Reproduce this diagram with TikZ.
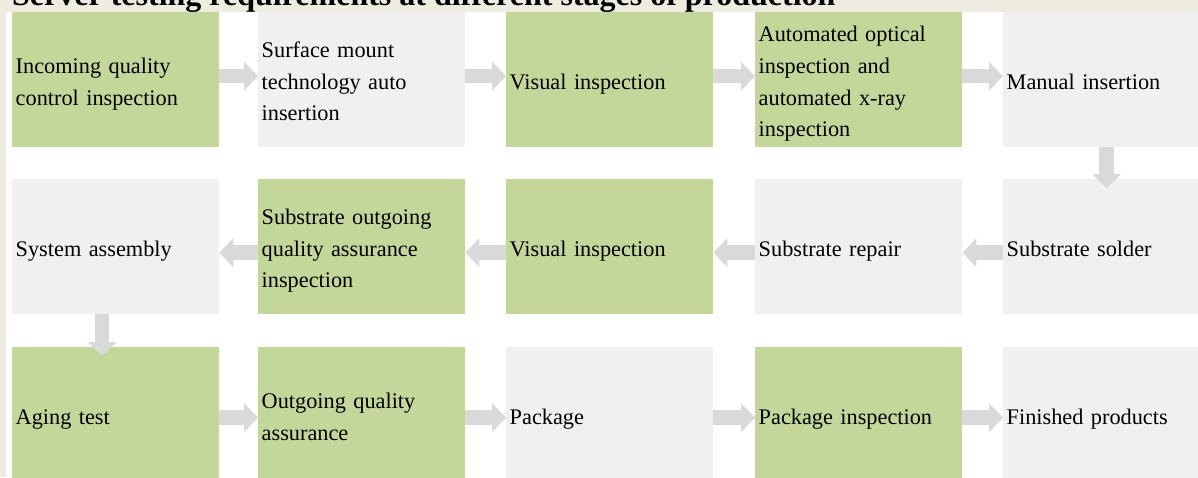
\documentclass[tikz,border=0pt]{standalone}
\usepackage{fontspec}
\setmainfont{Liberation Serif}
\usepackage{xcolor}
\usetikzlibrary{arrows.meta,positioning}
\definecolor{boxgreen}{HTML}{C4D79B}
\definecolor{boxgrey}{HTML}{F0F0F0}
\definecolor{arrowgrey}{HTML}{D9D9D9}
\definecolor{bgtan}{HTML}{EEECE1}

\begin{document}
\begin{tikzpicture}
  [x=1pt,y=-1pt,
   stage/.style={rectangle,anchor=north west,minimum width=207pt,minimum height=135pt,
     text width=200pt,inner xsep=3.5pt,inner ysep=0pt,align=left,
     font=\fontsize{22.3}{31.6}\selectfont,
     execute at begin node={\rule{0pt}{28pt}},execute at end node={\rule[-9pt]{0pt}{9pt}}},
   gbox/.style={stage,fill=boxgreen},
   wbox/.style={stage,fill=boxgrey},
   flow/.style={draw=arrowgrey,line width=14.5pt,-{Triangle[length=14pt,width=29pt,line width=0pt,fill=arrowgrey]}}]
  \useasboundingbox (0,0) rectangle (1198,477);
  \clip (0,0) rectangle (1198,477);
  \fill[bgtan] (0,0) rectangle (1198,477);
  \fill[white] (6,12) rectangle (1198,477);
  \node[anchor=base west,inner sep=0pt,font=\fontsize{32}{38}\selectfont\bfseries] (title) at (12,5)
    {Server testing requirements at different stages of production};
  % first row
  \node[gbox] (n1) at (12,12) {Incoming quality\\control inspection};
  \node[wbox] (n2) at (258,12) {Surface mount\\technology auto\\insertion};
  \node[gbox] (n3) at (506,12) {Visual inspection};
  \node[gbox] (n4) at (755,12) {Automated optical\\inspection and\\automated x-ray\\inspection};
  \node[wbox] (n5) at (1003,12) {Manual insertion};
  % second row
  \node[wbox] (n6) at (1003,179) {Substrate solder};
  \node[wbox] (n7) at (755,179) {Substrate repair};
  \node[gbox] (n8) at (506,179) {Visual inspection};
  \node[gbox] (n9) at (258,179) {Substrate outgoing\\quality assurance\\inspection};
  \node[wbox] (n10) at (12,179) {System assembly};
  % third row
  \node[gbox] (n11) at (12,347) {Aging test};
  \node[gbox] (n12) at (258,347) {Outgoing quality\\assurance};
  \node[wbox] (n13) at (506,347) {Package};
  \node[gbox] (n14) at (755,347) {Package inspection};
  \node[wbox] (n15) at (1003,347) {Finished products};
  \foreach \from/\to/\dy in {n1/n2/3.5pt,n2/n3/3.5pt,n3/n4/3.5pt,n4/n5/3.5pt,
      n11/n12/-3pt,n12/n13/-3pt,n13/n14/-3pt,n14/n15/-3pt}
    \draw[flow] ([yshift=\dy]\from.east) -- ([yshift=\dy]\to.west);
  \foreach \from/\to in {n6/n7,n7/n8,n8/n9,n9/n10}
    \draw[flow] ([yshift=-6pt]\from.west) -- ([yshift=-6pt]\to.east);
  \draw[flow] (n5.south) -- ([yshift=-9pt]n6.north);
  \draw[flow] ([xshift=-13.5pt]n10.south) -- ([xshift=-13.5pt,yshift=-9pt]n11.north);
\end{tikzpicture}
\end{document}
